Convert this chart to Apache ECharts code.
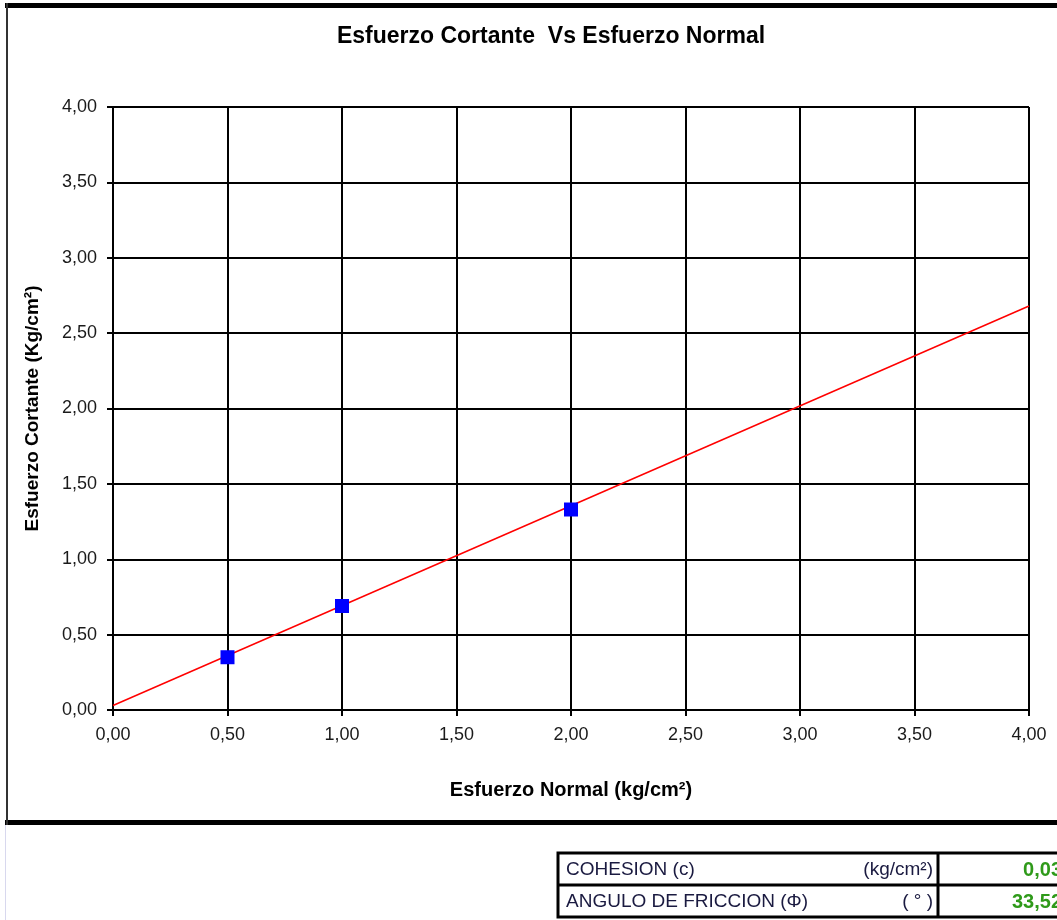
<!DOCTYPE html>
<html>
<head>
<meta charset="utf-8">
<title>Esfuerzo Cortante Vs Esfuerzo Normal</title>
<script src="https://cdn.jsdelivr.net/npm/echarts@6/dist/echarts.min.js"></script>
<style>
  html, body { margin: 0; padding: 0; background: #ffffff; }
  #chart { width: 1057px; height: 920px; }
</style>
</head>
<body>
<div id="chart"></div>
<script>
// Ensayo de corte directo: puntos medidos y envolvente de falla
const normalStress = [0.5, 1.0, 2.0];          // kg/cm²
const shearStress  = [0.35, 0.69, 1.33];       // kg/cm²
const envelopeX    = [0.0, 4.0];
const envelopeY    = [0.03, 2.68];

const tableLabels = ['COHESION (c)', 'ANGULO DE FRICCION (\u03A6)'];
const tableUnits  = ['(kg/cm\u00B2)', '( \u00B0 )'];
const tableValues = ['0,03', '33,52'];

const fmt = v => v.toFixed(2).replace('.', ',');
const font = 'Liberation Sans, Arial, sans-serif';

const chart = echarts.init(document.getElementById('chart'), null, { renderer: 'canvas' });

// Tabla de resultados bajo el gráfico
const tableGraphics = [];
const tX = 558, tY = 853, rowH = 32, colA = 380, tRight = 1100;
tableGraphics.push({
  type: 'rect', shape: { x: tX, y: tY, width: tRight - tX, height: rowH * 2 },
  style: { fill: '#ffffff', stroke: '#000000', lineWidth: 3 }
});
tableGraphics.push({
  type: 'line', shape: { x1: tX, y1: tY + rowH, x2: tRight, y2: tY + rowH },
  style: { stroke: '#000000', lineWidth: 3 }
});
tableGraphics.push({
  type: 'line', shape: { x1: tX + colA, y1: tY, x2: tX + colA, y2: tY + rowH * 2 },
  style: { stroke: '#000000', lineWidth: 3 }
});
tableLabels.forEach((lab, i) => {
  const cy = tY + rowH * i + rowH / 2 + 1;
  tableGraphics.push({
    type: 'text', x: tX + 8, y: cy,
    style: { text: lab, font: '19px ' + font, fill: '#1a1a40', textVerticalAlign: 'middle', textAlign: 'left' }
  });
  tableGraphics.push({
    type: 'text', x: tX + colA - 5, y: cy,
    style: { text: tableUnits[i], font: '19px ' + font, fill: '#1a1a40', textVerticalAlign: 'middle', textAlign: 'right' }
  });
  tableGraphics.push({
    type: 'text', x: 1062, y: cy,
    style: { text: tableValues[i], font: 'bold 20px ' + font, fill: '#2f9a1a', textVerticalAlign: 'middle', textAlign: 'right' }
  });
});

const gridLine = { color: '#000000', width: 2 };

chart.setOption({
  animation: false,
  backgroundColor: '#ffffff',
  title: {
    text: 'Esfuerzo Cortante  Vs Esfuerzo Normal',
    left: 546, top: 20, textAlign: 'center',
    textStyle: { fontFamily: font, fontSize: 23, fontWeight: 'bold', color: '#000000' }
  },
  grid: { left: 113, top: 107, width: 916, height: 603, containLabel: false },
  xAxis: {
    type: 'value', min: 0, max: 4, interval: 0.5,
    name: 'Esfuerzo Normal (kg/cm\u00B2)', nameLocation: 'middle', nameGap: 70,
    nameTextStyle: { fontFamily: font, fontSize: 20, fontWeight: 'bold', color: '#000000' },
    axisLine: { show: true, onZero: false, lineStyle: gridLine },
    axisTick: { show: true, length: 6, lineStyle: gridLine },
    axisLabel: { margin: 16, fontFamily: font, fontSize: 18, color: '#1a1a1a', formatter: fmt },
    splitLine: { show: true, lineStyle: gridLine }
  },
  yAxis: {
    type: 'value', min: 0, max: 4, interval: 0.5,
    name: 'Esfuerzo Cortante (Kg/cm\u00B2)', nameLocation: 'middle', nameGap: 71, nameRotate: 90,
    nameTextStyle: { fontFamily: font, fontSize: 19, fontWeight: 'bold', color: '#000000' },
    axisLine: { show: true, onZero: false, lineStyle: gridLine },
    axisTick: { show: true, length: 6, lineStyle: gridLine },
    axisLabel: { margin: 16, fontFamily: font, fontSize: 18, color: '#1a1a1a', formatter: fmt },
    splitLine: { show: true, lineStyle: gridLine }
  },
  series: [
    {
      name: 'Envolvente',
      type: 'line',
      data: envelopeX.map((x, i) => [x, envelopeY[i]]),
      showSymbol: false, symbol: 'none',
      lineStyle: { color: '#ff0000', width: 1.5 },
      z: 3
    },
    {
      name: 'Ensayos',
      type: 'scatter',
      data: normalStress.map((x, i) => [x, shearStress[i]]),
      symbol: 'rect', symbolSize: 14,
      itemStyle: { color: '#0000ff', opacity: 1 },
      z: 4
    }
  ],
  graphic: [
    // marco del gráfico
    { type: 'rect', shape: { x: 5, y: 3, width: 1060, height: 5 }, style: { fill: '#000000' }, z: 10 },
    { type: 'rect', shape: { x: 5, y: 820, width: 1060, height: 5 }, style: { fill: '#000000' }, z: 10 },
    { type: 'rect', shape: { x: 6, y: 3, width: 2, height: 822 }, style: { fill: '#333333' }, z: 10 },
    { type: 'rect', shape: { x: 5, y: 825, width: 1, height: 95 }, style: { fill: '#d8d8ee' }, z: 10 },
    ...tableGraphics
  ]
});
</script>
</body>
</html>
